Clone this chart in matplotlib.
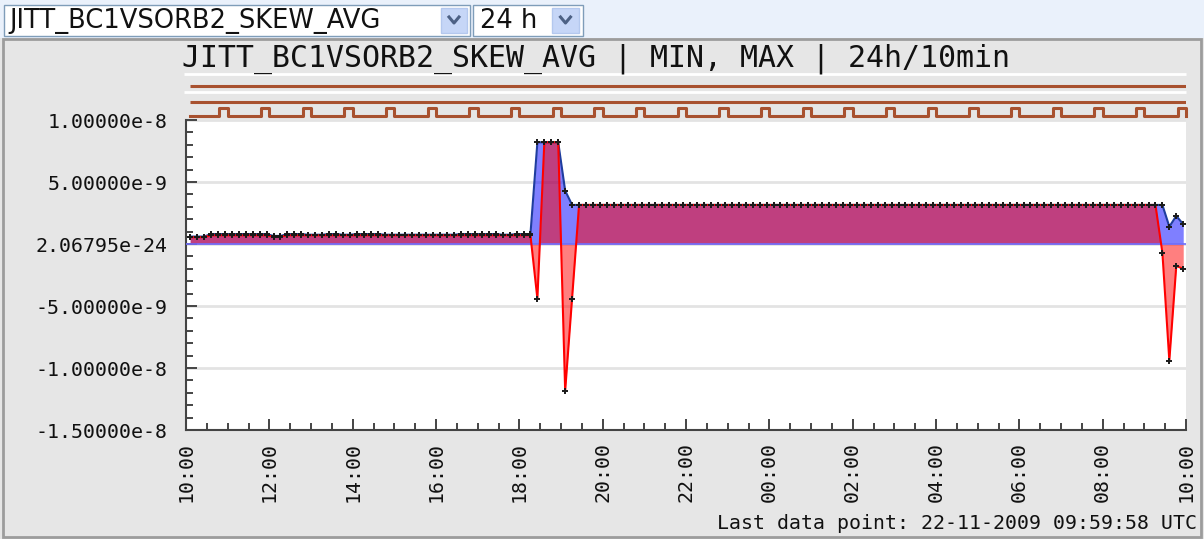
import matplotlib
matplotlib.use("Agg")
import matplotlib.pyplot as plt
import matplotlib.dates as mdates
from matplotlib.patches import Rectangle
from matplotlib.lines import Line2D
from matplotlib.ticker import MultipleLocator
import numpy as np
import pandas as pd

W, H = 1204, 539

signal_name = "JITT_BC1VSORB2_SKEW_AVG"
range_name = "24 h"
title = "JITT_BC1VSORB2_SKEW_AVG | MIN, MAX | 24h/10min"
footer = "Last data point: 22-11-2009 09:59:58 UTC"

# 10 minute bins, 21-11-2009 10:00 -> 22-11-2009 10:00 UTC
start = pd.Timestamp("2009-11-21 10:00")
end = pd.Timestamp("2009-11-22 10:00")
times = pd.date_range("2009-11-21 10:06", periods=144, freq="10min")

# MAX / MIN per bin, in units of 1e-9
max_vals = [
    0.60, 0.60, 0.60, 0.80, 0.80, 0.80, 0.80, 0.80, 0.80, 0.80, 0.80, 0.80,
    0.65, 0.65, 0.80, 0.80, 0.80, 0.75, 0.75, 0.75, 0.80, 0.80, 0.75, 0.75,
    0.80, 0.80, 0.80, 0.80, 0.75, 0.75, 0.75, 0.75, 0.75, 0.75, 0.75, 0.75,
    0.75, 0.75, 0.75, 0.80, 0.80, 0.80, 0.80, 0.80, 0.80, 0.75, 0.75, 0.80,
    0.80, 0.80, 8.20, 8.20, 8.20, 8.20, 4.30, 3.15, 3.15, 3.15, 3.15, 3.15,
    3.15, 3.15, 3.15, 3.15, 3.15, 3.15, 3.15, 3.15, 3.15, 3.15, 3.15, 3.15,
    3.15, 3.15, 3.15, 3.15, 3.15, 3.15, 3.15, 3.15, 3.15, 3.15, 3.15, 3.15,
    3.15, 3.15, 3.15, 3.15, 3.15, 3.15, 3.15, 3.15, 3.15, 3.15, 3.15, 3.15,
    3.15, 3.15, 3.15, 3.15, 3.15, 3.15, 3.15, 3.15, 3.15, 3.15, 3.15, 3.15,
    3.15, 3.15, 3.15, 3.15, 3.15, 3.15, 3.15, 3.15, 3.15, 3.15, 3.15, 3.15,
    3.15, 3.15, 3.15, 3.15, 3.15, 3.15, 3.15, 3.15, 3.15, 3.15, 3.15, 3.15,
    3.15, 3.15, 3.15, 3.15, 3.15, 3.15, 3.15, 3.15, 3.15, 1.40, 2.26, 1.60,
]
min_vals = [
    0.55, 0.55, 0.55, 0.70, 0.70, 0.70, 0.70, 0.70, 0.70, 0.70, 0.70, 0.70,
    0.60, 0.60, 0.70, 0.70, 0.70, 0.70, 0.70, 0.70, 0.70, 0.70, 0.70, 0.70,
    0.70, 0.70, 0.70, 0.70, 0.70, 0.70, 0.70, 0.70, 0.70, 0.70, 0.70, 0.70,
    0.70, 0.70, 0.70, 0.70, 0.70, 0.70, 0.70, 0.70, 0.70, 0.70, 0.70, 0.70,
    0.70, 0.70, -4.40, 8.20, 8.20, 8.20, -11.85, -4.40, 3.15, 3.15, 3.15, 3.15,
    3.15, 3.15, 3.15, 3.15, 3.15, 3.15, 3.15, 3.15, 3.15, 3.15, 3.15, 3.15,
    3.15, 3.15, 3.15, 3.15, 3.15, 3.15, 3.15, 3.15, 3.15, 3.15, 3.15, 3.15,
    3.15, 3.15, 3.15, 3.15, 3.15, 3.15, 3.15, 3.15, 3.15, 3.15, 3.15, 3.15,
    3.15, 3.15, 3.15, 3.15, 3.15, 3.15, 3.15, 3.15, 3.15, 3.15, 3.15, 3.15,
    3.15, 3.15, 3.15, 3.15, 3.15, 3.15, 3.15, 3.15, 3.15, 3.15, 3.15, 3.15,
    3.15, 3.15, 3.15, 3.15, 3.15, 3.15, 3.15, 3.15, 3.15, 3.15, 3.15, 3.15,
    3.15, 3.15, 3.15, 3.15, 3.15, 3.15, 3.15, 3.15, -0.70, -9.40, -1.77, -2.00,
]

ytick_vals = [1e-8, 5e-9, 2.06795e-24, -5e-9, -1e-8, -1.5e-8]
ytick_labels = ["1.00000e-8", "5.00000e-9", "2.06795e-24",
                "-5.00000e-9", "-1.00000e-8", "-1.50000e-8"]

# status strip, third row: short pulse every hour
pulse_starts = ["10:48", "11:48", "12:48", "13:48", "14:48", "15:48",
                "16:48", "17:48", "18:48", "19:48", "20:48", "21:48",
                "22:48", "23:48", "00:48", "01:48", "02:48", "03:48",
                "04:48", "05:48", "06:48", "07:48", "08:48", "09:48"]
pulse_len_min = 12

plt.rcParams['font.family'] = 'DejaVu Sans Mono'

fig = plt.figure(figsize=(W / 100, H / 100), dpi=100)
fig.patch.set_facecolor('#e6e6e6')


def box(x0, y0, x1, y1, **kw):
    # pixel box -> figure fraction
    r = Rectangle((x0 / W, 1 - y1 / H), (x1 - x0) / W, (y1 - y0) / H,
                  transform=fig.transFigure, **kw)
    fig.add_artist(r)


def chevron(cx, cy, col='#4d6185'):
    xs = [(cx - 5) / W, cx / W, (cx + 5) / W]
    ys = [1 - (cy - 3) / H, 1 - (cy + 3) / H, 1 - (cy - 3) / H]
    fig.add_artist(Line2D(xs, ys, transform=fig.transFigure, color=col, lw=2.2))


# header with the two drop-downs
box(0, 0, W, 38, facecolor='#eaf1fb', edgecolor='none', zorder=0)
box(3, 39, 1201, 537, facecolor='#e6e6e6', edgecolor='#9c9c9c', lw=2, zorder=0)
box(4, 5, 470, 36, facecolor='white', edgecolor='#7f9db9', lw=1)
box(441, 8, 467, 33, facecolor='#c6d6f7', edgecolor='#b4c8ee', lw=1)
chevron(454, 20)
fig.text(9 / W, 1 - 28.5 / H, signal_name, family='DejaVu Sans', size=18.5,
         va='baseline', ha='left', color='#111111')
box(473, 5, 583, 36, facecolor='white', edgecolor='#7f9db9', lw=1)
box(552, 8, 579, 33, facecolor='#c6d6f7', edgecolor='#b4c8ee', lw=1)
chevron(565.5, 20)
fig.text(480 / W, 1 - 28.5 / H, range_name, family='DejaVu Sans', size=18.5,
         va='baseline', ha='left', color='#111111')

fig.text(596 / W, 1 - 66.5 / H, title, ha='center', va='baseline',
         size=21.5, color='#111111')
fig.text(1197 / W, 1 - 529 / H, footer, ha='right', va='baseline',
         size=14.3, color='#111111')

# main plot
ax = fig.add_axes([186 / W, 1 - 430 / H, 1000 / W, 310 / H])
ax.set_facecolor('white')
mx = np.array(max_vals) * 1e-9
mn = np.array(min_vals) * 1e-9

ax.fill_between(times, 0, mx, color='#0000ff', alpha=0.5, lw=0, zorder=2)
ax.fill_between(times, 0, mn, color='#ff0000', alpha=0.5, lw=0, zorder=3)
ax.axhline(0, color='#7070ff', lw=1.2, zorder=4)
ax.plot(times, mx, color='#1f3d9e', lw=1.5, zorder=5)
ax.plot(times, mn, color='#ff0000', lw=1.5, zorder=6)
ax.plot(times, mx, ls='none', marker='+', ms=5, mew=1.4, color='#1a1a1a', zorder=7)
ax.plot(times, mn, ls='none', marker='+', ms=5, mew=1.4, color='#1a1a1a', zorder=7)

ax.set_xlim(start, end)
ax.set_ylim(-1.5e-8, 1e-8)
ax.set_yticks(ytick_vals, ytick_labels)
ax.yaxis.set_minor_locator(MultipleLocator(1e-9))
ax.xaxis.set_major_locator(mdates.HourLocator(byhour=range(0, 24, 2)))
ax.xaxis.set_major_formatter(mdates.DateFormatter('%H:%M'))
ax.xaxis.set_minor_locator(mdates.MinuteLocator(byminute=[0, 30]))

ax.yaxis.grid(True, color='#e3e3e3', lw=2)
ax.set_axisbelow(True)
for s in ['top', 'right']:
    ax.spines[s].set_visible(False)
for s in ['left', 'bottom']:
    ax.spines[s].set_color('#444444')
    ax.spines[s].set_linewidth(1.5)
ax.tick_params(which='major', direction='in', length=8, width=1.4,
               color='#444444', labelsize=14.3, labelcolor='#111111')
ax.tick_params(which='minor', direction='in', length=5, width=1.4, color='#444444')
ax.tick_params(axis='y', which='major', pad=13)
ax.tick_params(axis='x', which='major', pad=9, labelrotation=90)

# status strip above the plot (y in pixel rows)
sax = fig.add_axes([186 / W, 1 - 118 / H, 1000 / W, 48 / H])
sax.set_xlim(start, end)
sax.set_ylim(118, 70)
sax.axis('off')
brown = '#a8512f'
t0 = mdates.date2num(start - pd.Timedelta(minutes=3))
t1 = mdates.date2num(end)
sax.hlines([74, 92], t0, t1, color='white', lw=2, clip_on=False)
sax.hlines([86, 102], mdates.date2num(times[0]), t1, color=brown, lw=2.2)

px, py = [mdates.date2num(times[0])], [116]
for p in pulse_starts:
    ts = pd.Timestamp("2009-11-21 " + p)
    if ts < start:
        ts += pd.Timedelta(days=1)
    a = mdates.date2num(ts)
    b = mdates.date2num(ts + pd.Timedelta(minutes=pulse_len_min))
    px += [a, a, b, b]
    py += [116, 108, 108, 116]
sax.plot(px, py, color=brown, lw=2.2, clip_on=False)

fig.savefig('out.png', dpi=100, facecolor=fig.get_facecolor())
